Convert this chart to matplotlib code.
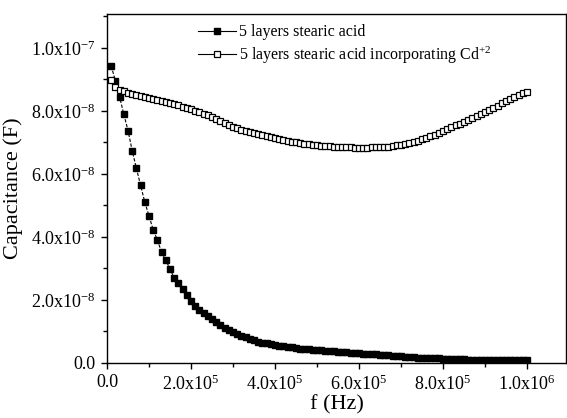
import matplotlib
matplotlib.use("Agg")
import matplotlib.pyplot as plt
from matplotlib.ticker import FuncFormatter, MultipleLocator

plt.rcParams['font.family'] = ['Liberation Serif', 'DejaVu Serif']
plt.rcParams['mathtext.fontset'] = 'custom'
plt.rcParams['mathtext.rm'] = 'Liberation Serif'
plt.rcParams['mathtext.default'] = 'regular'

# frequency in kHz (10 kHz steps)
freq_khz = [
    10, 20, 30, 40, 50, 60, 70, 80, 90, 100,
    110, 120, 130, 140, 150, 160, 170, 180, 190, 200,
    210, 220, 230, 240, 250, 260, 270, 280, 290, 300,
    310, 320, 330, 340, 350, 360, 370, 380, 390, 400,
    410, 420, 430, 440, 450, 460, 470, 480, 490, 500,
    510, 520, 530, 540, 550, 560, 570, 580, 590, 600,
    610, 620, 630, 640, 650, 660, 670, 680, 690, 700,
    710, 720, 730, 740, 750, 760, 770, 780, 790, 800,
    810, 820, 830, 840, 850, 860, 870, 880, 890, 900,
    910, 920, 930, 940, 950, 960, 970, 980, 990, 1000,
]

# capacitance in units of 1e-8 F
cap_sa = [
    9.43, 8.96, 8.45, 7.90, 7.38, 6.74, 6.18, 5.64, 5.11, 4.67,
    4.23, 3.90, 3.52, 3.27, 2.98, 2.71, 2.53, 2.34, 2.16, 1.97,
    1.81, 1.68, 1.58, 1.49, 1.40, 1.29, 1.20, 1.12, 1.04, 0.97,
    0.91, 0.86, 0.81, 0.76, 0.72, 0.68, 0.65, 0.62, 0.59, 0.57,
    0.55, 0.53, 0.51, 0.50, 0.48, 0.46, 0.45, 0.43, 0.42, 0.41,
    0.40, 0.39, 0.38, 0.37, 0.36, 0.35, 0.34, 0.33, 0.32, 0.31,
    0.30, 0.29, 0.28, 0.27, 0.26, 0.25, 0.24, 0.23, 0.22, 0.21,
    0.20, 0.19, 0.18, 0.17, 0.17, 0.16, 0.16, 0.15, 0.15, 0.14,
    0.14, 0.13, 0.13, 0.12, 0.12, 0.11, 0.11, 0.11, 0.10, 0.10,
    0.10, 0.10, 0.10, 0.10, 0.10, 0.10, 0.10, 0.10, 0.10, 0.10,
]

cap_sa_cd = [
    8.98, 8.75, 8.68, 8.63, 8.58, 8.55, 8.51, 8.48, 8.44, 8.40,
    8.37, 8.34, 8.31, 8.28, 8.25, 8.21, 8.18, 8.14, 8.10, 8.06,
    8.01, 7.96, 7.91, 7.86, 7.80, 7.74, 7.68, 7.62, 7.56, 7.50,
    7.45, 7.41, 7.37, 7.33, 7.30, 7.27, 7.23, 7.20, 7.17, 7.14,
    7.11, 7.08, 7.05, 7.02, 7.00, 6.98, 6.96, 6.94, 6.92, 6.91,
    6.90, 6.89, 6.88, 6.87, 6.86, 6.86, 6.85, 6.85, 6.84, 6.84,
    6.84, 6.84, 6.85, 6.85, 6.86, 6.86, 6.87, 6.89, 6.91, 6.93,
    6.96, 6.99, 7.02, 7.06, 7.10, 7.14, 7.19, 7.24, 7.30, 7.36,
    7.42, 7.48, 7.54, 7.60, 7.66, 7.72, 7.78, 7.84, 7.90, 7.96,
    8.03, 8.10, 8.17, 8.24, 8.31, 8.38, 8.45, 8.52, 8.58, 8.60,
]

labels = ['5 layers stearic acid',
          '5 layers stearic acid incorporating Cd$^{+2}$']


def sci_fmt(v, pos):
    if v == 0:
        return '0.0'
    exp = 0
    m = abs(v)
    while m >= 10:
        m /= 10
        exp += 1
    while m < 1:
        m *= 10
        exp -= 1
    sign = '-' if v < 0 else ''
    return '%s%.1fx10$^{%d}$' % (sign, m, exp)


def main():
    f = [k * 1e3 for k in freq_khz]
    c1 = [v * 1e-8 for v in cap_sa]
    c2 = [v * 1e-8 for v in cap_sa_cd]

    fig = plt.figure(figsize=(5.67, 4.18), dpi=100)
    ax = fig.add_axes([0.1887, 0.1316, 0.8095, 0.835])

    ax.plot(f, c1, color='black', lw=0.8, ls='--', dashes=(3, 1.5),
            marker='s', ms=4.8, mfc='black', mec='black', label=labels[0])
    ax.plot(f, c2, color='black', lw=0.8, ls='--', dashes=(3, 1.5),
            marker='s', ms=5.0, mfc='white', mec='black', mew=0.9,
            label=labels[1])

    ax.set_xlim(0, 1.093e6)
    ax.set_ylim(0, 1.108e-7)

    ax.xaxis.set_major_locator(MultipleLocator(2e5))
    ax.xaxis.set_minor_locator(MultipleLocator(1e5))
    ax.yaxis.set_major_locator(MultipleLocator(2e-8))
    ax.yaxis.set_minor_locator(MultipleLocator(1e-8))
    ax.xaxis.set_major_formatter(FuncFormatter(sci_fmt))
    ax.yaxis.set_major_formatter(FuncFormatter(sci_fmt))

    ax.tick_params(which='both', direction='out', top=False, right=False,
                   labelsize=13, width=1.0)
    ax.tick_params(which='major', length=4.5)
    ax.tick_params(which='minor', length=3)
    for s in ax.spines.values():
        s.set_linewidth(1.0)

    ax.set_xlabel('f (Hz)', fontsize=16, labelpad=1)
    ax.set_ylabel('Capacitance (F)', fontsize=16, labelpad=6)

    leg = ax.legend(loc='upper left', bbox_to_anchor=(0.198, 0.97),
                    frameon=False, fontsize=11.5, handlelength=2.4,
                    handletextpad=0.15, borderpad=0, borderaxespad=0,
                    labelspacing=0.25)
    for h in leg.get_lines():
        h.set_linestyle('-')

    fig.savefig('out.png', dpi=100)


if __name__ == '__main__':
    main()
